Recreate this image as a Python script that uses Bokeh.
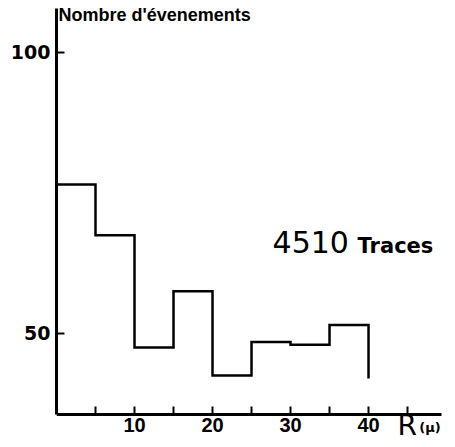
from bokeh.plotting import figure
from bokeh.models import FixedTicker, Range1d, Label
from bokeh.embed import file_html
from bokeh.resources import INLINE

# Histogram of track distances R (µ), 5 µ bins
bin_edges = [0, 5, 10, 15, 20, 25, 30, 35, 40]
counts = [76.5, 67.5, 47.5, 57.5, 42.5, 48.5, 48, 51.5]
tail_value = 42  # the closing edge at 40 µ stops here

x_ticks = [5, 10, 15, 20, 25, 30, 35, 40, 45]
x_tick_labels = {5: "", 10: "10", 15: "", 20: "20", 25: "", 30: "30", 35: "", 40: "40", 45: ""}
y_ticks = [50, 100]
y_floor = 35.58  # where the R axis crosses the count axis

p = figure(width=455, height=447, output_backend="svg", toolbar_location=None,
           x_range=Range1d(0, 51.15), y_range=Range1d(29.71, 109.25),
           min_border_left=56, min_border_right=0, min_border_top=0, min_border_bottom=0)
p.outline_line_color = None
p.grid.visible = False
p.background_fill_color = "white"
p.border_fill_color = "white"

# staircase outline built from the bin edges and counts
xs, ys = [], []
for i, c in enumerate(counts):
    xs += [bin_edges[i], bin_edges[i + 1]]
    ys += [c, c]
xs.append(bin_edges[-1])
ys.append(tail_value)
p.line(xs, ys, line_color="black", line_width=2.5, line_join="miter")

for ax in (p.xaxis[0], p.yaxis[0]):
    ax.axis_line_width = 3
    ax.axis_line_color = "black"
    ax.major_tick_line_width = 2
    ax.major_tick_line_color = "black"
    ax.major_tick_in = 8
    ax.major_tick_out = 0
    ax.minor_tick_line_color = None
    ax.major_label_text_font_style = "bold"
    ax.major_label_text_color = "black"

# the R axis is pinned at the bottom of the count scale
p.xaxis.fixed_location = y_floor
p.xaxis.ticker = FixedTicker(ticks=x_ticks)
p.xaxis.major_label_overrides = x_tick_labels
p.xaxis.bounds = (0, 49.3)
p.xaxis.major_label_standoff = 3
p.xaxis.major_label_text_font = "Liberation Sans"
p.xaxis.major_label_text_font_size = "20px"

p.yaxis.ticker = FixedTicker(ticks=y_ticks)
p.yaxis.bounds = (y_floor, 107.8)
p.yaxis.major_label_standoff = 6
p.yaxis.major_label_text_font = "DejaVu Sans"
p.yaxis.major_label_text_font_size = "19px"

def add_text(x, y, text, font, size, style="normal"):
    p.add_layout(Label(x=x, y=y, text=text, text_font=font, text_font_size=size,
                       text_font_style=style, text_color="black",
                       text_baseline="alphabetic", text_align="left"))

add_text(0.26, 106.6, "Nombre d'évenements", "Liberation Sans", "18px", "bold")
add_text(27.7, 66.3, "4510", "DejaVu Sans", "30px")
add_text(38.6, 65.6, "Traces", "DejaVu Sans", "21px", "bold")
add_text(43.7, 33.6, "R", "DejaVu Sans", "28px")
add_text(46.5, 33.2, "(µ)", "DejaVu Sans", "13px", "bold")

open("out.html", "w").write(file_html(p, INLINE))
